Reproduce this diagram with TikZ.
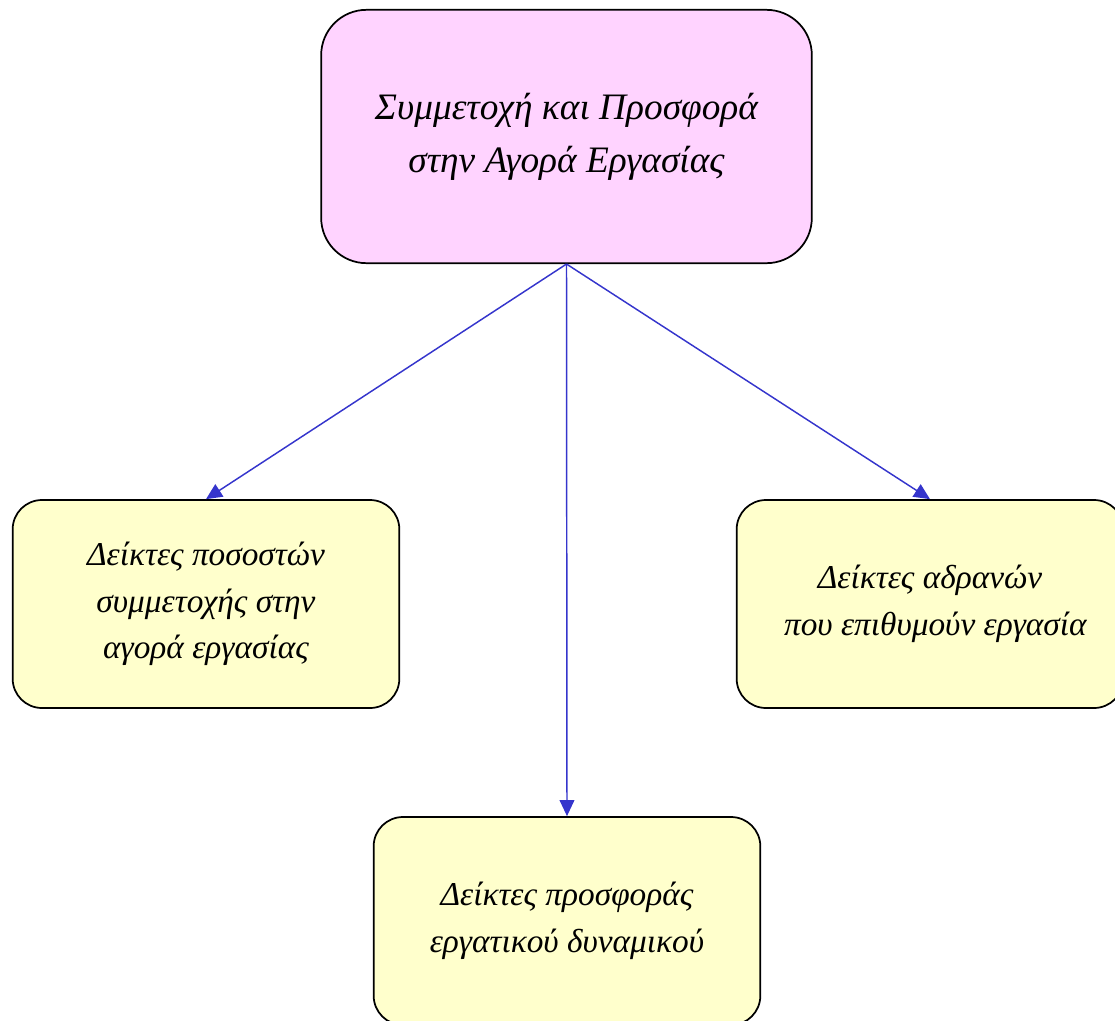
\documentclass[tikz,border=0pt]{standalone}
\usepackage{fontspec}
\setmainfont{Liberation Serif}
\usetikzlibrary{positioning, arrows.meta}
\definecolor{toppink}{HTML}{FFD3FF}
\definecolor{leafyellow}{HTML}{FFFFCC}
\definecolor{arrblue}{HTML}{3535CC}
\tikzset{
  box/.style={draw, line width=1.3pt, rounded corners=22pt, align=center, font=\fontsize{28}{40}\selectfont\itshape, inner sep=0pt},
  topbox/.style={box, fill=toppink, minimum width=368pt, minimum height=190pt, rounded corners=34pt},
  leafbox/.style={box, fill=leafyellow, minimum width=290pt, minimum height=156pt, font=\fontsize{25}{35}\selectfont\itshape},
  arr/.style={-{Triangle[length=12pt, width=11pt]}, arrblue, line width=1.1pt}
}
\begin{document}
\begin{tikzpicture}[x=0.75pt, y=-0.75pt]
\useasboundingbox (0,0) rectangle (1115,1021);
\node[topbox] (top) at (566.5,136.5) {Συμμετοχή και Προσφορά\\ στην Αγορά Εργασίας};
\node[leafbox] (left) at (206,604) {Δείκτες ποσοστών\\ συμμετοχής στην\\ αγορά εργασίας};
\node[leafbox] (right) at (930,604) {Δείκτες αδρανών\\ \hspace{8pt}που επιθυμούν εργασία};
\node[leafbox] (bottom) at (567,921) {Δείκτες προσφοράς\\ εργατικού δυναμικού};
\draw[arr] (top.south) -- (left.north);
\draw[arr] (top.south) -- (bottom.north);
\draw[arr] (top.south) -- (right.north);
\end{tikzpicture}
\end{document}
